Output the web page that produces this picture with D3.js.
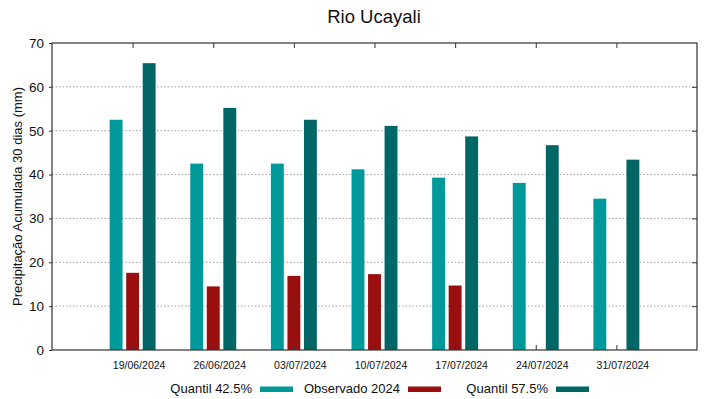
<!DOCTYPE html>
<html>
<head>
<meta charset="utf-8">
<script src="https://cdn.jsdelivr.net/npm/d3@7"></script>
<style>
  body { margin: 0; background: #fff; }
  svg { display: block; font-family: "Liberation Sans", Arial, sans-serif; }
</style>
</head>
<body>
<svg id="chart"></svg>
<script>
const width = 719, height = 399;

// data
const dates = ["19/06/2024", "26/06/2024", "03/07/2024", "10/07/2024", "17/07/2024", "24/07/2024", "31/07/2024"];
const q425 = [52.5, 42.5, 42.5, 41.2, 39.3, 38.1, 34.5];
const observado = [17.6, 14.5, 16.9, 17.3, 14.7, null, null];
const q575 = [65.4, 55.2, 52.5, 51.1, 48.7, 46.7, 43.4];
const yTicks = [0, 10, 20, 30, 40, 50, 60, 70];

const series = [
    { name: "Quantil 42.5%", values: q425, color: "#009999", offset: -0.205 },
    { name: "Observado 2024", values: observado, color: "#990f0f", offset: 0 },
    { name: "Quantil 57.5%", values: q575, color: "#006666", offset: 0.205 }
];

const margin = { top: 43, right: 22, bottom: 49, left: 52 };
const innerW = width - margin.left - margin.right;
const innerH = height - margin.top - margin.bottom;

const svg = d3.select("#chart").attr("width", width).attr("height", height);
const g = svg.append("g").attr("transform", `translate(${margin.left},${margin.top})`);

// gnuplot-like numeric x axis: categories at 0..6, range -1..7
const x = d3.scaleLinear().domain([-1, dates.length]).range([0, innerW]);
const y = d3.scaleLinear().domain([0, 70]).range([innerH, 0]);
const barW = x(0.16) - x(0);

// grid lines
g.append("g")
    .selectAll("line")
    .data(yTicks.filter(d => d > 0 && d < 70))
    .join("line")
    .attr("x1", 0).attr("x2", innerW)
    .attr("y1", d => y(d)).attr("y2", d => y(d))
    .attr("stroke", "#a0a0a0")
    .attr("stroke-width", 1)
    .attr("stroke-dasharray", "1.5,2");

// bars
series.forEach(s => {
    g.append("g")
        .selectAll("rect")
        .data(s.values.map((v, i) => ({ i, v })).filter(d => d.v != null))
        .join("rect")
        .attr("x", d => x(d.i + s.offset) - barW / 2)
        .attr("width", barW)
        .attr("y", d => y(d.v))
        .attr("height", d => y(0) - y(d.v))
        .attr("fill", s.color);
});

// axes
const yAxis = g.append("g")
    .call(d3.axisLeft(y).tickValues(yTicks).tickSize(3).tickPadding(5));
yAxis.select(".domain").remove();
yAxis.selectAll("line").attr("stroke", "#333");
yAxis.selectAll("text").attr("font-size", "13.5px").attr("fill", "#111");

const yRight = g.append("g")
    .attr("transform", `translate(${innerW},0)`)
    .call(d3.axisRight(y).tickValues(yTicks.slice(1, -1)).tickSize(-5).tickFormat(""));
yRight.select(".domain").remove();
yRight.selectAll("line").attr("stroke", "#333");

const xIdx = d3.range(dates.length);
const xBottom = g.append("g")
    .attr("transform", `translate(0,${innerH})`)
    .call(d3.axisBottom(x).tickValues(xIdx).tickSize(-5).tickPadding(12).tickFormat(i => dates[i]));
xBottom.select(".domain").remove();
xBottom.selectAll("line").attr("stroke", "#333");
xBottom.selectAll("text").attr("font-size", "10.5px").attr("fill", "#111").attr("dx", 6);

const xTop = g.append("g")
    .call(d3.axisTop(x).tickValues(xIdx).tickSize(-5).tickFormat(""));
xTop.select(".domain").remove();
xTop.selectAll("line").attr("stroke", "#333");

// border
g.append("rect")
    .attr("width", innerW).attr("height", innerH)
    .attr("fill", "none")
    .attr("stroke", "#333")
    .attr("stroke-width", 1.2);

// title
svg.append("text")
    .attr("x", 374).attr("y", 23)
    .attr("text-anchor", "middle")
    .attr("font-size", "18.5px")
    .attr("fill", "#111")
    .text("Rio Ucayali");

// y label
svg.append("text")
    .attr("transform", `translate(22,${margin.top + innerH / 2}) rotate(-90)`)
    .attr("text-anchor", "middle")
    .attr("font-size", "13px")
    .attr("fill", "#111")
    .text("Precipitação Acumulada 30 dias (mm)");

// legend
const legend = svg.append("g");
series.forEach((s, i) => {
    const xe = 252 + i * 148;
    legend.append("text")
        .attr("x", xe).attr("y", 392.5)
        .attr("text-anchor", "end")
        .attr("font-size", "13px")
        .attr("fill", "#111")
        .text(s.name);
    legend.append("rect")
        .attr("x", xe + 8).attr("y", 386.5)
        .attr("width", 33).attr("height", 5.5)
        .attr("fill", s.color);
});
</script>
</body>
</html>
